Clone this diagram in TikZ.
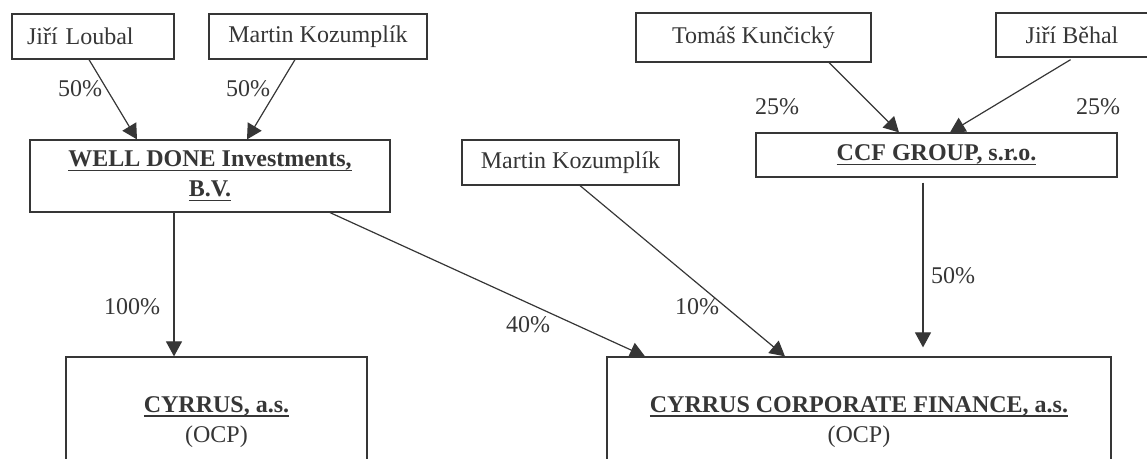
\documentclass[tikz,border=0pt]{standalone}
\usepackage{fontspec}
\setmainfont{Liberation Serif}
\usepackage{tikz}
\usepackage{xcolor}
\usetikzlibrary{arrows.meta}

\definecolor{ink}{HTML}{363636}
\newcommand{\firmname}[1]{\setbox0=\hbox{\bfseries #1}\rlap{\raisebox{-2.4pt}{\rule{\wd0}{0.9pt}}}\box0}

\tikzset{
  box/.style={draw=ink, line width=0.6pt, inner sep=0pt, text=ink,
    font=\fontsize{12}{15}\selectfont, align=center},
  own/.style={draw=ink, line width=0.6pt, -{Triangle[length=7.5pt,width=8pt]}},
  pct/.style={inner sep=0pt, text=ink, font=\fontsize{12}{15}\selectfont}
}

\begin{document}
\begin{tikzpicture}[x=0.5pt,y=-0.5pt]
  \useasboundingbox (0,0) rectangle (1147,459);

  % Owners (people)
  \node[box, minimum width=81pt, minimum height=22.5pt, text width=66pt, align=left] (loubal) at (93,36.5) {Jiří Loubal};
  \node[box, minimum width=109pt, minimum height=22.5pt] (kozA) at (318,36.5) {Martin Kozumplík};
  \node[box, minimum width=117.5pt, minimum height=24.5pt] (kunc) at (753.5,37.5) {Tomáš Kunčický};
  \node[box, minimum width=76pt, minimum height=22pt] (behal) at (1072,35) {Jiří Běhal};
  \node[box, minimum width=108.5pt, minimum height=22.5pt] (kozB) at (570.5,162.5) {Martin Kozumplík};

  % Companies
  \node[box, minimum width=180pt, minimum height=36pt] (welldone) at (210,176)
    {\firmname{WELL DONE Investments,}\\\firmname{B.V.}};
  \node[box, minimum width=180.5pt, minimum height=22pt] (ccfg) at (936.5,155) {\firmname{CCF GROUP, s.r.o.}};
  \node[box, minimum width=150.5pt, minimum height=65pt] (cyrrus) at (216.5,422)
    {\firmname{CYRRUS, a.s.}\\(OCP)};
  \node[box, minimum width=252pt, minimum height=65pt] (ccfin) at (859,422)
    {\firmname{CYRRUS CORPORATE FINANCE, a.s.}\\(OCP)};

  % Ownership arrows
  \draw[own] ([xshift=-2pt]loubal.south) -- ([xshift=-36.5pt]welldone.north);
  \draw[own] ([xshift=-11.5pt]kozA.south) -- ([xshift=18.5pt]welldone.north);
  \draw[own] ([xshift=37.75pt]kunc.south) -- ([xshift=-18.75pt]ccfg.north);
  \draw[own, shorten <=2pt] ([xshift=1pt]behal.south) -- ([xshift=6.75pt]ccfg.north);
  \coordinate (wd1) at ([xshift=-18pt]welldone.south);
  \draw[own] (wd1) -- (wd1 |- cyrrus.north);
  \draw[own] ([xshift=60pt]welldone.south) -- ([xshift=-107pt]ccfin.north);
  \draw[own] ([xshift=4.75pt]kozB.south) -- ([xshift=-37pt]ccfin.north);
  \coordinate (cg1) at ([xshift=-6.75pt]ccfg.south);
  \draw[own, shorten <=2.5pt, shorten >=4.5pt] (cg1) -- (cg1 |- ccfin.north);

  % Shares
  \foreach \name/\x/\y/\txt in {lbA/80/89/50\%, lbB/248/89/50\%, lbC/777/107/25\%,
    lbD/1098/107/25\%, lbE/132/307/100\%, lbF/528/325/40\%, lbG/697/307/10\%,
    lbH/953/276/50\%}
  {
    \node[pct] (\name) at (\x,\y) {\txt};
  }
\end{tikzpicture}
\end{document}
